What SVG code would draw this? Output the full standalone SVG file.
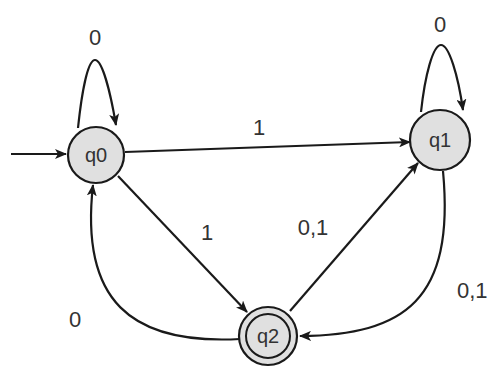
<svg xmlns="http://www.w3.org/2000/svg" width="495" height="372" viewBox="0 0 495 372">
<style>
.node{fill:#e0e0e0;stroke:#1a1a1a;stroke-width:2.2}
.inner{fill:none;stroke:#1a1a1a;stroke-width:2}
.edge{fill:none;stroke:#1a1a1a;stroke-width:2.2}
.nl{font-family:"Liberation Sans",Arial,sans-serif;font-size:20px;fill:#333;text-anchor:middle;dominant-baseline:central}
.el{font-family:"Liberation Sans",Arial,sans-serif;font-size:22px;fill:#333;text-anchor:middle}
</style>
<defs>
<marker id="arr" viewBox="0 0 12 10" refX="11" refY="5" markerWidth="12" markerHeight="10" markerUnits="userSpaceOnUse" orient="auto">
<path d="M0,0 L12,5 L0,10 L3,5 z" fill="#1a1a1a"/>
</marker>
</defs>
<rect width="495" height="372" fill="#fff"/>
<g id="connectors">
<path class="edge" d="M11,154 L66,154" marker-end="url(#arr)"/>
<path class="edge" d="M78,128 C82,90 88,60 95,60 C102,60 110,90 116,125" marker-end="url(#arr)"/>
<path class="edge" d="M421,112 C425,75 433,45 441,45 C449,45 458,75 463,110" marker-end="url(#arr)"/>
<path class="edge" d="M125,152 L410,142" marker-end="url(#arr)"/>
<path class="edge" d="M118,176 L247,312" marker-end="url(#arr)"/>
<path class="edge" d="M290,311 L418,163" marker-end="url(#arr)"/>
<path class="edge" d="M443,171 C455,300 405,335 300,336" marker-end="url(#arr)"/>
<path class="edge" d="M240,339 C130,345 80,300 93,185" marker-end="url(#arr)"/>
</g>
<g id="labels">
<text class="el" x="95" y="45">0</text>
<text class="el" x="440" y="32">0</text>
<text class="el" x="259" y="135">1</text>
<text class="el" x="207" y="240">1</text>
<text class="el" x="313" y="235">0,1</text>
<text class="el" x="457" y="298" style="text-anchor:start">0,1</text>
<text class="el" x="75" y="327">0</text>
</g>
<g id="q0">
<circle class="node" cx="96" cy="155" r="28"/>
<text class="nl" x="96" y="155">q0</text>
</g>
<g id="q1">
<circle class="node" cx="440" cy="140" r="30"/>
<text class="nl" x="440" y="140">q1</text>
</g>
<g id="q2">
<circle class="node" cx="268" cy="336" r="29"/>
<circle class="inner" cx="268" cy="336" r="22"/>
<text class="nl" x="268" y="336">q2</text>
</g>
</svg>
